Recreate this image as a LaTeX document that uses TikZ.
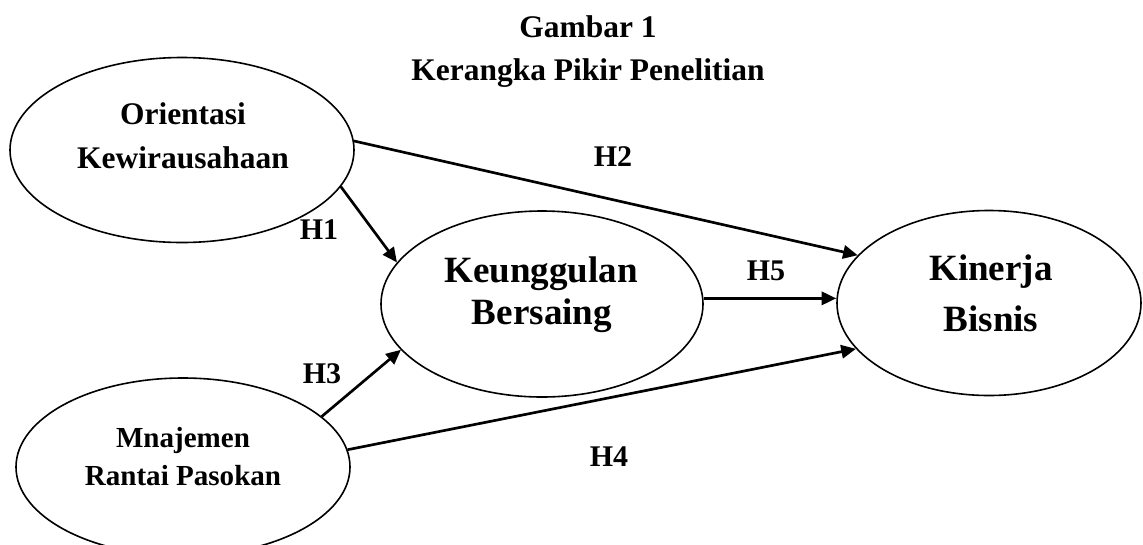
\documentclass[tikz,border=0pt]{standalone}
\usepackage{fontspec}
\setmainfont{Liberation Serif}
\usetikzlibrary{arrows.meta,shapes.geometric}
\tikzset{
  bub/.style={draw, ellipse, line width=1.2pt, inner sep=0pt},
  conn/.style={line width=2pt, -{Triangle[length=11pt,width=10pt]}},
  txt/.style={anchor=base, inner sep=0pt},
  ttl/.style={txt, font=\fontsize{23.6}{28}\selectfont\bfseries},
  lbl/.style={txt, font=\fontsize{22.5}{27}\selectfont\bfseries},
  mid/.style={txt, font=\fontsize{23.6}{28}\selectfont\bfseries},
  small/.style={txt, font=\fontsize{21.8}{26}\selectfont\bfseries},
  big/.style={txt, font=\fontsize{27.8}{33}\selectfont\bfseries},
}
\begin{document}
\begin{tikzpicture}[x=0.75pt,y=-0.75pt]
\useasboundingbox (0,0) rectangle (1143,544);
\clip (0,0) rectangle (1143,544);
% title
\node[ttl] (t1) at (588,37) {Gambar 1};
\node[ttl] (t2) at (588,80) {Kerangka Pikir Penelitian};
% ellipses
\node[bub, minimum width=258pt, minimum height=138.75pt] (OK) at (182,150) {};
\node[bub, minimum width=250.5pt, minimum height=133.5pt] (RP) at (183,467) {};
\node[bub, minimum width=241.5pt, minimum height=139.5pt] (KB) at (542,304) {};
\node[bub, minimum width=228pt, minimum height=138.75pt] (KJ) at (989,303) {};
% ellipse texts
\node[mid] (ok1) at (183,124) {Orientasi};
\node[mid] (ok2) at (183,168) {Kewirausahaan};
\node[small] (rp1) at (183,447) {Mnajemen};
\node[small] (rp2) at (183,485) {Rantai Pasokan};
\node[big] (kb1) at (541,282) {Keunggulan};
\node[big] (kb2) at (542,324) {Bersaing};
\node[big] (kj1) at (991,280) {Kinerja};
\node[big] (kj2) at (991,331) {Bisnis};
% connectors
\draw[conn] (OK.3) -- (KJ.160);
\draw[conn] (OK.-13) -- (KB.164);
\draw[conn] (KB.2.5) -- (KB.2.5 -| KJ.west);
\draw[conn] (RP.20) -- (KB.198);
\draw[conn] (RP.6) -- (KJ.199);
% labels
\node[lbl] (h2) at (613,166) {H2};
\node[lbl] (h1) at (319,239) {H1};
\node[lbl] (h5) at (766,280) {H5};
\node[lbl] (h3) at (322,383) {H3};
\node[lbl] (h4) at (609,466) {H4};
\end{tikzpicture}
\end{document}
